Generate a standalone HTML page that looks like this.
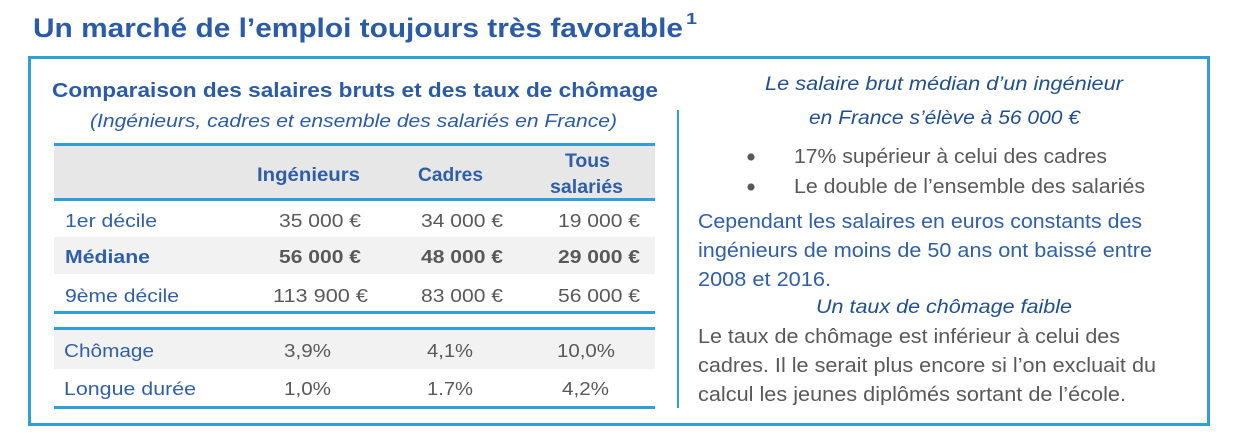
<!DOCTYPE html>
<html>
<head>
<meta charset="utf-8">
<style>
html,body{margin:0;padding:0;background:#ffffff;}
svg{display:block;font-family:"Liberation Sans",Arial,sans-serif;}
</style>
</head>
<body>
<svg width="1237" height="442" viewBox="0 0 1237 442" xmlns="http://www.w3.org/2000/svg">
  <rect x="0" y="0" width="1237" height="442" fill="#ffffff"/>

  <!-- Title -->
  <text x="33" y="37" font-size="27" font-weight="bold" fill="#2b5ba7" textLength="650" lengthAdjust="spacingAndGlyphs">Un marché de l’emploi toujours très favorable</text>
  <text x="686" y="24" font-size="16" font-weight="bold" fill="#2b5ba7" textLength="11" lengthAdjust="spacingAndGlyphs">1</text>

  <!-- Outer box -->
  <rect x="29.5" y="57.5" width="1179" height="367" fill="none" stroke="#2f9fd8" stroke-width="3"/>

  <!-- Left subtitle -->
  <text x="52" y="97" font-size="20" font-weight="bold" fill="#2b5ba7" textLength="606" lengthAdjust="spacingAndGlyphs">Comparaison des salaires bruts et des taux de chômage</text>
  <text x="90" y="127" font-size="18" font-style="italic" fill="#2b5ba7" textLength="527" lengthAdjust="spacingAndGlyphs">(Ingénieurs, cadres et ensemble des salariés en France)</text>

  <!-- Table 1 -->
  <rect x="54" y="146" width="601" height="52" fill="#e7e7e7"/>
  <rect x="54" y="237" width="601" height="37" fill="#f2f2f2"/>
  <rect x="54" y="143" width="601" height="3" fill="#2f9fd8"/>
  <rect x="54" y="198" width="601" height="3" fill="#2f9fd8"/>
  <rect x="54" y="311" width="601" height="3" fill="#2f9fd8"/>

  <g font-size="19" font-weight="bold" fill="#2f5ea8">
    <text x="257" y="181" textLength="103" lengthAdjust="spacingAndGlyphs">Ingénieurs</text>
    <text x="418" y="181" textLength="65" lengthAdjust="spacingAndGlyphs">Cadres</text>
    <text x="565" y="167" textLength="45" lengthAdjust="spacingAndGlyphs">Tous</text>
    <text x="550" y="193" textLength="73" lengthAdjust="spacingAndGlyphs">salariés</text>
  </g>

  <g font-size="18" fill="#2f5fa9">
    <text x="65" y="227" textLength="92" lengthAdjust="spacingAndGlyphs">1er décile</text>
    <text x="65" y="263" font-weight="bold" textLength="85" lengthAdjust="spacingAndGlyphs">Médiane</text>
    <text x="65" y="302" textLength="114" lengthAdjust="spacingAndGlyphs">9ème décile</text>
  </g>

  <g font-size="18" fill="#595959">
    <text x="279" y="227" textLength="82" lengthAdjust="spacingAndGlyphs">35 000 €</text>
    <text x="421" y="227" textLength="82" lengthAdjust="spacingAndGlyphs">34 000 €</text>
    <text x="558" y="227" textLength="82" lengthAdjust="spacingAndGlyphs">19 000 €</text>

    <text x="279" y="263" font-weight="bold" textLength="82" lengthAdjust="spacingAndGlyphs">56 000 €</text>
    <text x="421" y="263" font-weight="bold" textLength="82" lengthAdjust="spacingAndGlyphs">48 000 €</text>
    <text x="558" y="263" font-weight="bold" textLength="82" lengthAdjust="spacingAndGlyphs">29 000 €</text>

    <text x="273" y="302" textLength="95" lengthAdjust="spacingAndGlyphs">113 900 €</text>
    <text x="421" y="302" textLength="82" lengthAdjust="spacingAndGlyphs">83 000 €</text>
    <text x="558" y="302" textLength="82" lengthAdjust="spacingAndGlyphs">56 000 €</text>
  </g>

  <!-- Table 2 -->
  <rect x="54" y="330" width="601" height="39" fill="#f2f2f2"/>
  <rect x="54" y="327" width="601" height="3" fill="#2f9fd8"/>
  <rect x="54" y="406" width="601" height="3" fill="#2f9fd8"/>

  <g font-size="18" fill="#2f5fa9">
    <text x="64" y="357" textLength="90" lengthAdjust="spacingAndGlyphs">Chômage</text>
    <text x="64" y="395" textLength="132" lengthAdjust="spacingAndGlyphs">Longue durée</text>
  </g>
  <g font-size="18" fill="#595959">
    <text x="284" y="357" textLength="47" lengthAdjust="spacingAndGlyphs">3,9%</text>
    <text x="427" y="357" textLength="46" lengthAdjust="spacingAndGlyphs">4,1%</text>
    <text x="557" y="357" textLength="58" lengthAdjust="spacingAndGlyphs">10,0%</text>
    <text x="284" y="395" textLength="47" lengthAdjust="spacingAndGlyphs">1,0%</text>
    <text x="427" y="395" textLength="46" lengthAdjust="spacingAndGlyphs">1.7%</text>
    <text x="562" y="395" textLength="47" lengthAdjust="spacingAndGlyphs">4,2%</text>
  </g>

  <!-- Vertical divider -->
  <rect x="677" y="110" width="2" height="298" fill="#2f9fd8"/>

  <!-- Right column -->
  <g font-size="19" font-style="italic" fill="#1f4f8f">
    <text x="765" y="90" textLength="358" lengthAdjust="spacingAndGlyphs">Le salaire brut médian d’un ingénieur</text>
    <text x="809" y="124" textLength="271" lengthAdjust="spacingAndGlyphs">en France s’élève à 56 000 €</text>
    <text x="816" y="313" textLength="256" lengthAdjust="spacingAndGlyphs">Un taux de chômage faible</text>
  </g>

  <circle cx="751" cy="157" r="3.6" fill="#595959"/>
  <circle cx="751" cy="187" r="3.6" fill="#595959"/>

  <g font-size="20" fill="#595959">
    <text x="794" y="163" textLength="313" lengthAdjust="spacingAndGlyphs">17% supérieur à celui des cadres</text>
    <text x="794" y="193" textLength="351" lengthAdjust="spacingAndGlyphs">Le double de l’ensemble des salariés</text>
    <text x="698" y="343" textLength="422" lengthAdjust="spacingAndGlyphs">Le taux de chômage est inférieur à celui des</text>
    <text x="698" y="372" textLength="458" lengthAdjust="spacingAndGlyphs">cadres. Il le serait plus encore si l’on excluait du</text>
    <text x="698" y="401" textLength="428" lengthAdjust="spacingAndGlyphs">calcul les jeunes diplômés sortant de l’école.</text>
  </g>

  <g font-size="20" fill="#2f5fa9">
    <text x="698" y="228" textLength="444" lengthAdjust="spacingAndGlyphs">Cependant les salaires en euros constants des</text>
    <text x="698" y="257" textLength="454" lengthAdjust="spacingAndGlyphs">ingénieurs de moins de 50 ans ont baissé entre</text>
    <text x="698" y="286" textLength="133" lengthAdjust="spacingAndGlyphs">2008 et 2016.</text>
  </g>
</svg>
</body>
</html>
